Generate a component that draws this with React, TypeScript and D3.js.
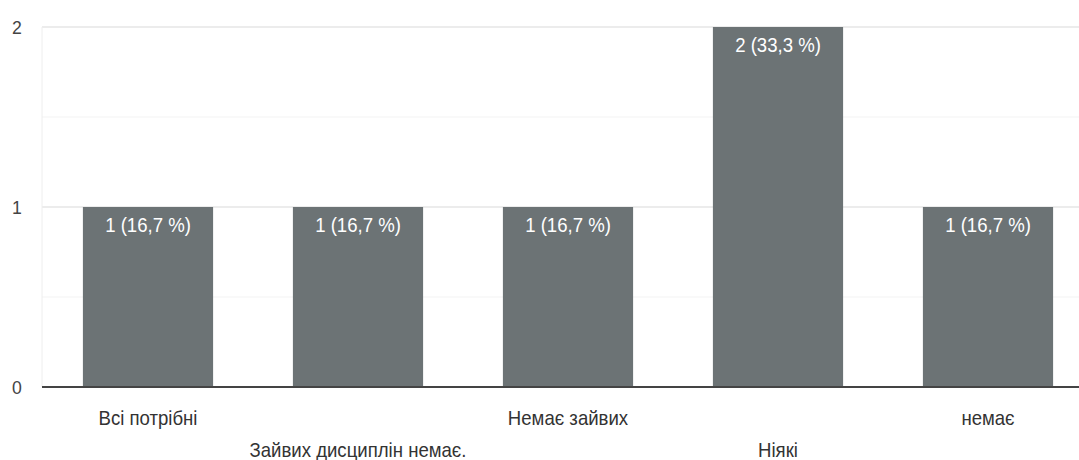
import React from "react";
import * as d3 from "d3";

const categories = ["Всі потрібні", "Зайвих дисциплін немає.", "Немає зайвих", "Ніякі", "немає"];
const values = [1, 1, 1, 2, 1];
const labels = ["1 (16,7 %)", "1 (16,7 %)", "1 (16,7 %)", "2 (33,3 %)", "1 (16,7 %)"];
const yTicks = [0, 1, 2];
const yMinor = [0.5, 1.5];

export default function App() {
  const W = 1079, H = 460;
  const left = 43, right = 1093, top = 27, bottom = 387;
  const x = d3.scaleBand<string>().domain(categories).range([left, right]).paddingInner(0.38).paddingOuter(0.19);
  const y = d3.scaleLinear().domain([0, 2]).range([bottom, top]);
  const font = "'Liberation Sans', Arial, sans-serif";
  const sx = 0.93;
  const T = (cx: number, cy: number, txt: string, fill: string, size: number, anchor: string = "middle") => (
    <g transform={`translate(${cx},${cy}) scale(${sx},1)`}>
      <text x={0} y={0} textAnchor={anchor as any} fill={fill} fontSize={size} fontFamily={font}>{txt}</text>
    </g>
  );
  return (
    <svg width={W} height={H} style={{ position: "absolute", left: 0, top: 0, background: "#fff" }}>
      <rect x={0} y={0} width={W} height={H} fill="#fff" />
      {yMinor.map((t) => (
        <line key={"m" + t} x1={left - 1} x2={W} y1={y(t)} y2={y(t)} stroke="#f3f3f3" strokeWidth={1} />
      ))}
      {yTicks.filter((t) => t > 0).map((t) => (
        <line key={"g" + t} x1={left - 1} x2={W} y1={y(t)} y2={y(t)} stroke="#e6e6e6" strokeWidth={1.5} />
      ))}
      <line x1={left - 1} x2={left - 1} y1={top} y2={bottom} stroke="#eeeeee" strokeWidth={1} />
      {yTicks.map((t) => (
        <g key={"t" + t}>{T(17, y(t) + 7, String(t), "#444", 19)}</g>
      ))}
      {categories.map((c, i) => (
        <rect key={c} x={x(c)!} y={y(values[i])} width={x.bandwidth()} height={bottom - y(values[i])} fill="#6c7375" />
      ))}
      {categories.map((c, i) => (
        <g key={"l" + c}>{T(x(c)! + x.bandwidth() / 2, y(values[i]) + 25, labels[i], "#fff", 20)}</g>
      ))}
      <line x1={left - 1} x2={W} y1={bottom} y2={bottom} stroke="#444" strokeWidth={2} />
      {categories.map((c, i) => (
        <g key={"c" + c}>{T(x(c)! + x.bandwidth() / 2, i % 2 === 0 ? 425 : 457, c, "#333", 20)}</g>
      ))}
    </svg>
  );
}
